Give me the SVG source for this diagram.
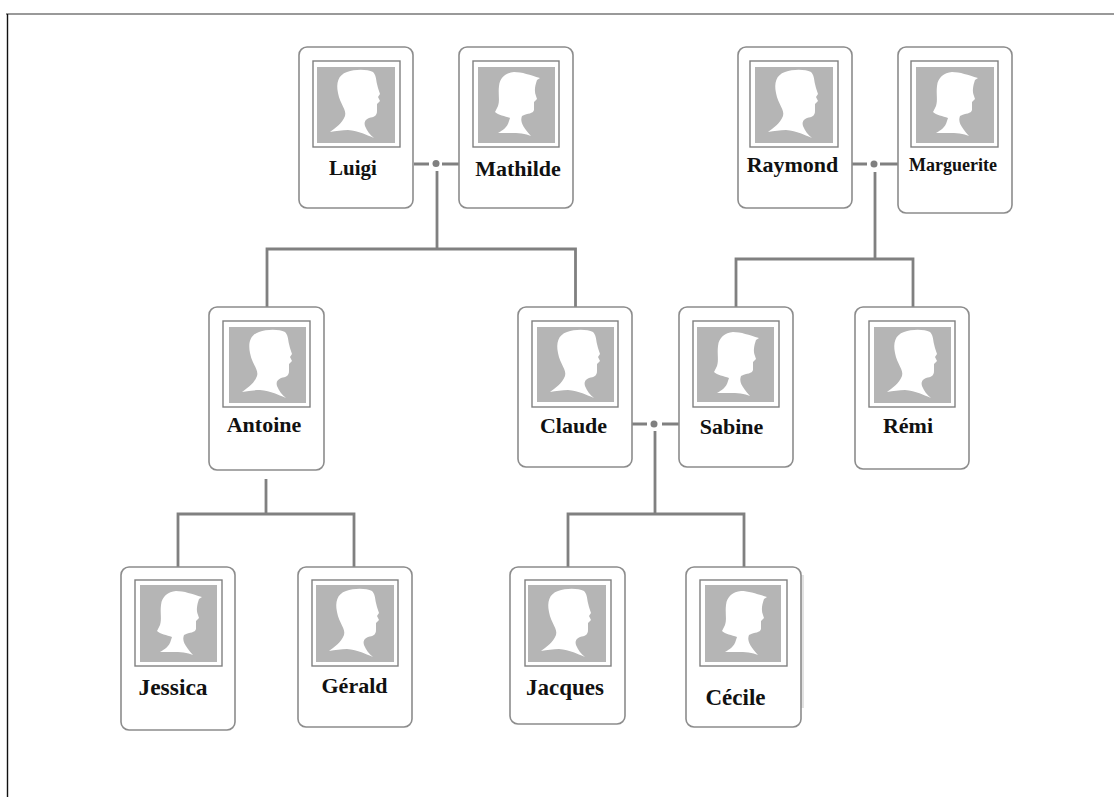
<svg xmlns="http://www.w3.org/2000/svg" width="1114" height="797" viewBox="0 0 1114 797">
<style>
.card{fill:#fff;stroke:#8c8c8c;stroke-width:1.6}
.frame{fill:#fff;stroke:#808080;stroke-width:1.4}
.photo{fill:#b5b5b5}
.sil{fill:#fff}
.name{font-family:"Liberation Serif",serif;font-weight:bold;font-size:22px;fill:#111;text-anchor:middle}
.link{fill:none;stroke:#808080;stroke-width:2.8}
.dot{fill:#808080}
</style>
<defs>
<path id="male" class="sil" d="M13 66C18 62 25 58 28 50C30 44 23 38 21 27C19 17 21 9 30 6C38 3 50 3 56 6C59 9 59 13 60 18L61 22L63 28L61 31L63 35L60 38L60 45C60 50 57 51 52 52C48 54 47 56 48 60C50 65 53 69 57 72C50 69 42 65 31 64C25 64 19 65 13 66Z"/>
<path id="female" class="sil" d="M20 67C25 64 29 62 31 55L32 52C27 50 20 49 17 46L20 40C22 34 20 28 21 20C22 11 28 7 36 6C44 6 52 9 62 12L59 14C57 20 56 25 58 30L59 33L56 36L56 44C55 48 50 47 44 50C42 55 44 60 53 70C45 66 32 67 20 67Z"/>
</defs>
<rect width="1114" height="797" fill="#fff"/>
<path d="M6 14H1114" fill="none" stroke="#777" stroke-width="1.6"/>
<path d="M7.5 14V797" fill="none" stroke="#111" stroke-width="1.4"/>
<g id="connectors">
<path class="link" d="M414 164H429M442 164H459M437 171V249M267 307V249H575.500V307"/>
<circle class="dot" cx="436" cy="163.500" r="3.500"/>
<path class="link" d="M851 164H867M880 164H898M875 172V259M736 307V259H913V307"/>
<circle class="dot" cx="874" cy="164" r="3.500"/>
<path class="link" d="M632 424H647M662 424H679M655 431V514M568 567V514H744V567"/>
<circle class="dot" cx="654" cy="424" r="3.500"/>
<path class="link" d="M266 479V514M178 567V514H354V567"/>
</g>
<g id="luigi"><rect class="card" x="299" y="47" width="114" height="161" rx="8"/><rect class="frame" x="313" y="61" width="87" height="86"/><rect class="photo" x="317" y="67" width="78" height="76"/><use href="#male" x="317" y="66"/><text class="name" x="353" y="175" style="font-size:21px">Luigi</text></g>
<g id="mathilde"><rect class="card" x="459" y="47" width="114" height="161" rx="8"/><rect class="frame" x="473" y="61" width="86" height="86"/><rect class="photo" x="478" y="67" width="77" height="76"/><use href="#female" x="478" y="66"/><text class="name" x="518" y="176">Mathilde</text></g>
<g id="raymond"><rect class="card" x="738" y="47" width="114" height="161" rx="8"/><rect class="frame" x="750" y="61" width="88" height="86"/><rect class="photo" x="755" y="67" width="78" height="76"/><use href="#male" x="755" y="66"/><text class="name" x="792.500" y="172">Raymond</text></g>
<g id="marguerite"><rect class="card" x="898" y="47" width="114" height="166" rx="8"/><rect class="frame" x="911" y="61" width="87" height="86"/><rect class="photo" x="916" y="67" width="78" height="76"/><use href="#female" x="916" y="66"/><text class="name" x="953" y="171" style="font-size:18px">Marguerite</text></g>
<g id="antoine"><rect class="card" x="209" y="307" width="115" height="163" rx="8"/><rect class="frame" x="223" y="321" width="87" height="86"/><rect class="photo" x="229" y="327" width="77" height="76"/><use href="#male" x="229" y="326"/><text class="name" x="264" y="432">Antoine</text></g>
<g id="claude"><rect class="card" x="518" y="307" width="114" height="160" rx="8"/><rect class="frame" x="532" y="321" width="86" height="86"/><rect class="photo" x="537" y="327" width="77" height="75"/><use href="#male" x="537" y="326"/><text class="name" x="573.500" y="433">Claude</text></g>
<g id="sabine"><rect class="card" x="679" y="307" width="114" height="160" rx="8"/><rect class="frame" x="693" y="321" width="86" height="86"/><rect class="photo" x="697" y="327" width="77" height="75"/><use href="#female" x="697" y="326"/><text class="name" x="731.500" y="434">Sabine</text></g>
<g id="remi"><rect class="card" x="855" y="307" width="114" height="162" rx="8"/><rect class="frame" x="869" y="321" width="86" height="86"/><rect class="photo" x="874" y="327" width="77" height="76"/><use href="#male" x="874" y="326"/><text class="name" x="908" y="433">Rémi</text></g>
<g id="jessica"><rect class="card" x="121" y="567" width="114" height="163" rx="8"/><rect class="frame" x="135" y="580" width="87" height="86"/><rect class="photo" x="140" y="585" width="77" height="77"/><use href="#female" x="140" y="585"/><text class="name" x="173" y="695" style="font-size:23.500px">Jessica</text></g>
<g id="gerald"><rect class="card" x="298" y="567" width="114" height="160" rx="8"/><rect class="frame" x="312" y="580" width="86" height="86"/><rect class="photo" x="316" y="585" width="78" height="77"/><use href="#male" x="316" y="585"/><text class="name" x="354.500" y="693">Gérald</text></g>
<g id="jacques"><rect class="card" x="510" y="567" width="115" height="157" rx="8"/><rect class="frame" x="525" y="580" width="86" height="86"/><rect class="photo" x="528" y="585" width="78" height="77"/><use href="#male" x="528" y="585"/><text class="name" x="565" y="695" style="font-size:23px">Jacques</text></g>
<g id="cecile"><path d="M802.500 575V708" fill="none" stroke="#e2e2e2" stroke-width="3"/><rect class="card" x="686" y="567" width="115" height="160" rx="8"/><rect class="frame" x="700" y="580" width="87" height="86"/><rect class="photo" x="705" y="585" width="76" height="77"/><use href="#female" x="705" y="585"/><text class="name" x="735.500" y="705" style="font-size:23px">Cécile</text></g>
</svg>
